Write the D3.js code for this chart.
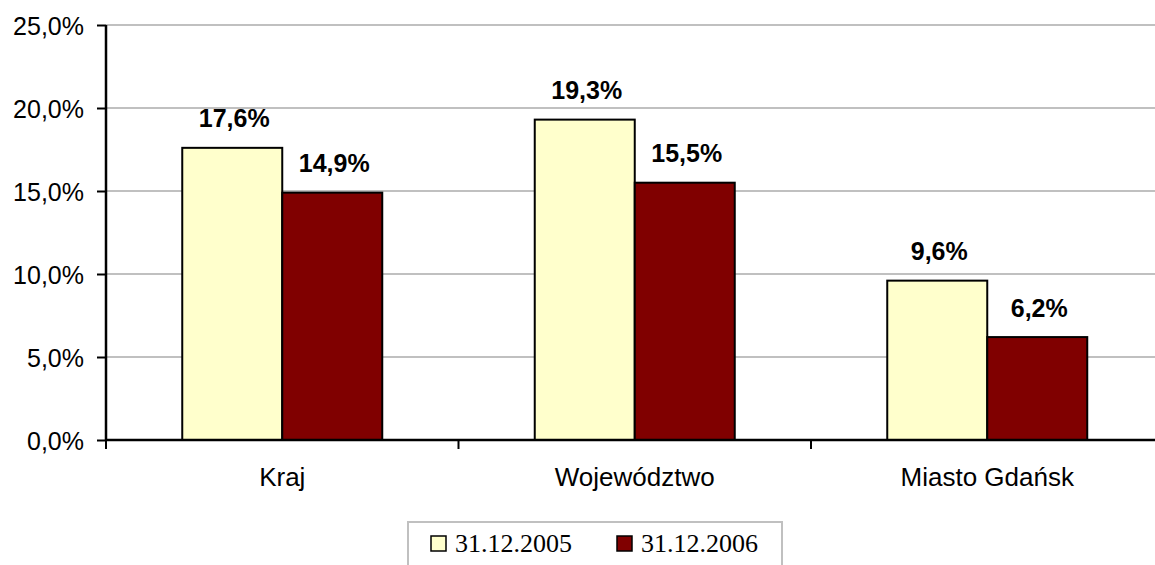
<!DOCTYPE html>
<html>
<head>
<meta charset="utf-8">
<script src="https://cdn.jsdelivr.net/npm/d3@7"></script>
<style>
  body { margin: 0; background: #fff; }
  svg { display: block; }
</style>
</head>
<body>
<div id="chart"></div>
<script>
// data
var categories = ["Kraj", "Województwo", "Miasto Gdańsk"];
var seriesNames = ["31.12.2005", "31.12.2006"];
var values2005 = [17.6, 19.3, 9.6];
var values2006 = [14.9, 15.5, 6.2];
var yTicks = [0, 5, 10, 15, 20, 25];
var colors = ["#FFFFCC", "#800000"];

var width = 1155;
var height = 565;
// plot area edges (right edge runs past the picture like in the original)
var plotLeft = 106, plotRight = 1163.5, plotTop = 25, plotBottom = 440;

var svg = d3.select("#chart")
  .append("svg")
  .attr("width", width)
  .attr("height", height);

var y = d3.scaleLinear().domain([0, 25]).range([plotBottom, plotTop]);

var x0 = d3.scaleBand()
  .domain(categories)
  .range([plotLeft, plotRight])
  .padding(0);

// two bars of 100px centered in each category
var groupW = 200;
var x1 = d3.scaleBand()
  .domain(seriesNames)
  .range([(x0.bandwidth() - groupW) / 2, (x0.bandwidth() + groupW) / 2]);

var fmt = function(v) { return d3.format(".1f")(v).replace(".", ",") + "%"; };

// gridlines
svg.append("g")
  .selectAll("line")
  .data(yTicks.filter(function(t) { return t > 0; }))
  .enter()
  .append("line")
  .attr("x1", plotLeft)
  .attr("x2", width)
  .attr("y1", function(d) { return y(d); })
  .attr("y2", function(d) { return y(d); })
  .attr("stroke", "#c0c0c0")
  .attr("stroke-width", 2);

var rows = categories.map(function(c, i) {
  return { cat: c, vals: [values2005[i], values2006[i]] };
});

var groups = svg.append("g")
  .selectAll("g")
  .data(rows)
  .enter()
  .append("g")
  .attr("transform", function(d) { return "translate(" + x0(d.cat) + ",0)"; });

groups.selectAll("rect")
  .data(function(d) { return d.vals.map(function(v, j) { return { s: seriesNames[j], v: v, j: j }; }); })
  .enter()
  .append("rect")
  .attr("x", function(d) { return x1(d.s); })
  .attr("width", x1.bandwidth())
  .attr("y", function(d) { return y(d.v); })
  .attr("height", function(d) { return plotBottom - y(d.v); })
  .attr("fill", function(d) { return colors[d.j]; })
  .attr("stroke", "#000")
  .attr("stroke-width", 2);

groups.selectAll("text")
  .data(function(d) { return d.vals.map(function(v, j) { return { s: seriesNames[j], v: v }; }); })
  .enter()
  .append("text")
  .attr("x", function(d) { return x1(d.s) + x1.bandwidth() / 2 + 2; })
  .attr("y", function(d) { return y(d.v) - 20.5; })
  .attr("text-anchor", "middle")
  .style("font-family", "Liberation Sans, Arial, sans-serif")
  .style("font-weight", "bold")
  .style("font-size", "25px")
  .text(function(d) { return fmt(d.v); });

// y axis
var yAxis = svg.append("g")
  .attr("transform", "translate(" + plotLeft + ",0)")
  .call(d3.axisLeft(y).tickValues(yTicks).tickSize(9).tickPadding(13).tickFormat(fmt));
yAxis.select(".domain").attr("stroke", "#000").attr("stroke-width", 2.5).attr("d", "M0," + plotTop + "V" + plotBottom);
yAxis.selectAll(".tick line").attr("stroke", "#000").attr("stroke-width", 2);
yAxis.selectAll(".tick text")
  .style("font-family", "Liberation Sans, Arial, sans-serif")
  .style("font-size", "25px")
  .attr("fill", "#000")
  .attr("dy", "0.36em");

// x axis
var xAxis = svg.append("g")
  .attr("transform", "translate(0," + plotBottom + ")")
  .call(d3.axisBottom(x0).tickSize(0).tickPadding(28));
xAxis.select(".domain").attr("stroke", "#000").attr("stroke-width", 2.5).attr("d", "M" + plotLeft + ",0H" + width);
xAxis.selectAll(".tick text")
  .style("font-family", "Liberation Sans, Arial, sans-serif")
  .style("font-size", "26px")
  .attr("fill", "#000");

// category separators
svg.append("g")
  .selectAll("line")
  .data(categories)
  .enter()
  .append("line")
  .attr("x1", function(d) { return x0(d); })
  .attr("x2", function(d) { return x0(d); })
  .attr("y1", plotBottom)
  .attr("y2", plotBottom + 9)
  .attr("stroke", "#000")
  .attr("stroke-width", 2);

// legend
var legend = svg.append("g");
legend.append("rect")
  .attr("x", 408)
  .attr("y", 522)
  .attr("width", 374)
  .attr("height", 60)
  .attr("fill", "#fff")
  .attr("stroke", "#c0c0c0")
  .attr("stroke-width", 2);

var legendX = [431, 617];
seriesNames.forEach(function(s, i) {
  legend.append("rect")
    .attr("x", legendX[i])
    .attr("y", 536)
    .attr("width", 15)
    .attr("height", 15)
    .attr("fill", colors[i])
    .attr("stroke", "#000")
    .attr("stroke-width", 1.5);
  legend.append("text")
    .attr("x", legendX[i] + 24)
    .attr("y", 552)
    .style("font-family", "Liberation Serif, Times New Roman, serif")
    .style("font-size", "26px")
    .text(s);
});
</script>
</body>
</html>
